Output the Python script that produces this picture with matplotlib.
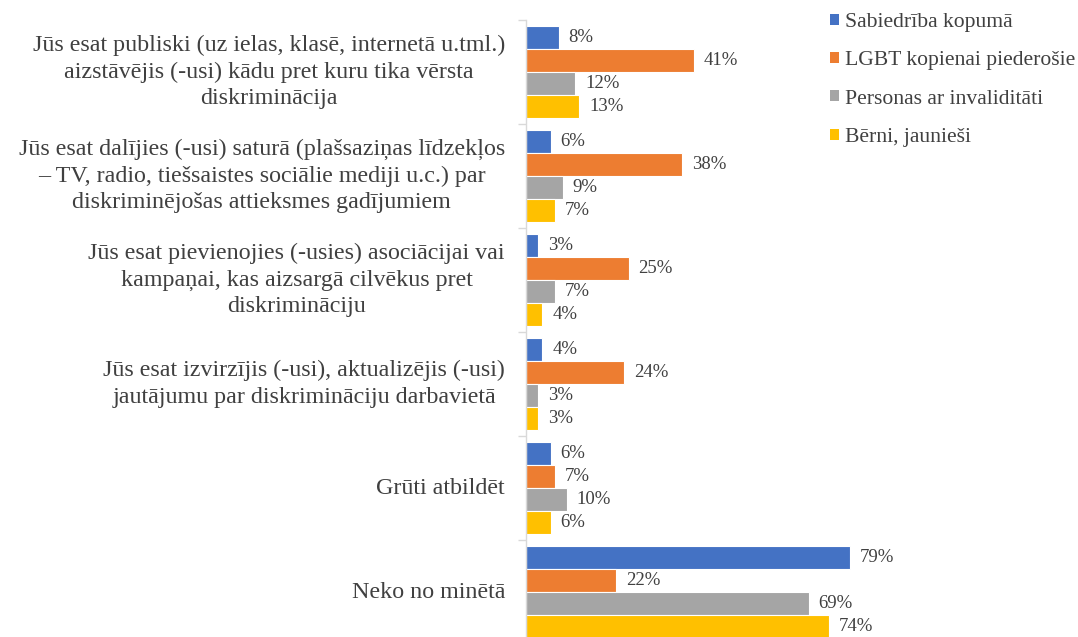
import matplotlib
matplotlib.use("Agg")
import matplotlib.pyplot as plt
from matplotlib.patches import Patch
from matplotlib.transforms import blended_transform_factory
import numpy as np

categories = [
    "Jūs esat publiski (uz ielas, klasē, internetā u.tml.)\naizstāvējis (-usi) kādu pret kuru tika vērsta\ndiskriminācija",
    "Jūs esat dalījies (-usi) saturā (plašsaziņas līdzekļos\n– TV, radio, tiešsaistes sociālie mediji u.c.) par\ndiskriminējošas attieksmes gadījumiem",
    "Jūs esat pievienojies (-usies) asociācijai vai\nkampaņai, kas aizsargā cilvēkus pret\ndiskrimināciju",
    "Jūs esat izvirzījis (-usi), aktualizējis (-usi)\njautājumu par diskrimināciju darbavietā",
    "Grūti atbildēt",
    "Neko no minētā",
]
series_names = ["Sabiedrība kopumā", "LGBT kopienai piederošie",
                "Personas ar invaliditāti", "Bērni, jaunieši"]
sabiedriba = [8, 6, 3, 4, 6, 79]
lgbt = [41, 38, 25, 24, 7, 22]
invaliditate = [12, 9, 7, 3, 10, 69]
berni = [13, 7, 4, 3, 6, 74]
series_values = [sabiedriba, lgbt, invaliditate, berni]
colors = ["#4472C4", "#ED7D31", "#A5A5A5", "#FFC000"]

plt.rcParams['font.family'] = ['Liberation Serif', 'DejaVu Serif']
text_color = "#404040"

W, H = 1078, 637
fig = plt.figure(figsize=(W / 100, H / 100), dpi=100)
ax_left, ax_right = 526, 1000
ax_top, ax_bottom = 20, 644
ax = fig.add_axes([ax_left / W, 1 - ax_bottom / H, (ax_right - ax_left) / W, (ax_bottom - ax_top) / H])
px_per_unit = 4.1
ax.set_xlim(0, (ax_right - ax_left) / px_per_unit)
ax.set_ylim(len(categories) - 0.5, -0.5)

y = np.arange(len(categories))
bh = 0.22
for j, (vals, c) in enumerate(zip(series_values, colors)):
    pos = y + (j - 1.5) * bh
    ax.barh(pos, vals, height=bh, color=c, edgecolor="white", linewidth=0.8)
    for p, v in zip(pos, vals):
        ax.text(v + 2.4, p, f"{v}%", va="center", ha="left", fontsize=13.5, color=text_color)

ax.set_yticks([])
trans = blended_transform_factory(fig.transFigure, ax.transData)
for yi, cat in zip(y, categories):
    fig.text(505 / W, yi, cat, transform=trans, ha="right", va="center",
             fontsize=17.3, color=text_color, multialignment="center", linespacing=1.34)

ax.set_yticks(np.arange(-0.5, len(categories) + 0.5, 1), minor=True)
ax.tick_params(axis="y", which="minor", length=6, color="#D9D9D9", width=1)
ax.set_xticks([])
for s in ["top", "right", "bottom"]:
    ax.spines[s].set_visible(False)
ax.spines["left"].set_color("#D9D9D9")
ax.spines["left"].set_linewidth(1)

handles = [Patch(facecolor=c, edgecolor="none") for c in colors]
fig.legend(handles, series_names, loc="upper left", bbox_to_anchor=(830 / W, 1 - 13 / H),
           frameon=False, fontsize=15.6, handlelength=0.41, handleheight=0.41,
           handletextpad=0.28, labelspacing=0.89, borderpad=0, borderaxespad=0,
           labelcolor=text_color)

fig.savefig("out.png", dpi=100)
